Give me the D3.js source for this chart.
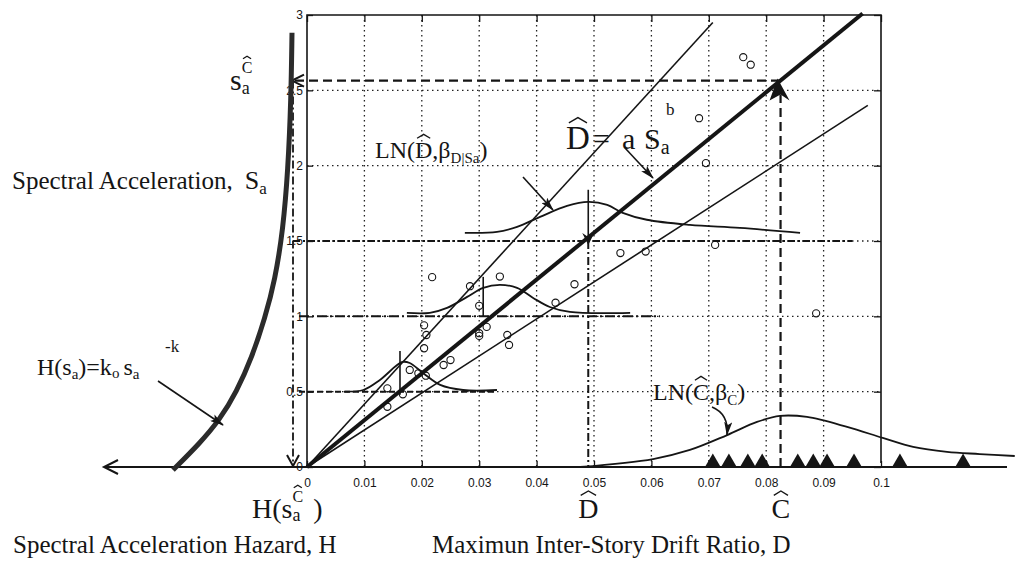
<!DOCTYPE html>
<html><head><meta charset="utf-8">
<script src="https://cdn.jsdelivr.net/npm/d3@7"></script>
<style>body{margin:0;background:#fff}svg{display:block}</style>
</head><body>
<svg id="c" width="1015" height="565"></svg>
<script>
// ---------- data ----------
const xTickValues = [0, 0.01, 0.02, 0.03, 0.04, 0.05, 0.06, 0.07, 0.08, 0.09, 0.1];
const xTickLabels = ['0', '0.01', '0.02', '0.03', '0.04', '0.05', '0.06', '0.07', '0.08', '0.09', '0.1'];
const yTickValues = [0, 0.5, 1, 1.5, 2, 2.5, 3];
const yTickLabels = ['0', '0.5', '1', '1.5', '2', '2.5', '3'];

// observed drift (D) vs spectral acceleration (Sa)
const obsD  = [0.0218,0.0336,0.0284,0.0300,0.0466,0.0433,0.0546,0.0204,0.0208,0.0204,0.0300,0.0300,0.0313,0.0349,0.0352,0.0238,0.0250,0.0179,0.0194,0.0207,0.0140,0.0167,0.0140,0.0760,0.0773,0.0683,0.0695,0.0711,0.0590,0.0887];
const obsSa = [1.26,1.264,1.20,1.07,1.213,1.09,1.42,0.94,0.876,0.788,0.888,0.87,0.93,0.876,0.81,0.677,0.71,0.644,0.622,0.606,0.522,0.483,0.40,2.72,2.67,2.315,2.017,1.474,1.43,1.02];

// capacity points (triangles) on the D axis
const capacityD = [0.0707,0.0735,0.0768,0.0793,0.0855,0.0882,0.0906,0.0953,0.1033,0.1143];

// fitted median line and +/- lines, as [D, Sa] end points
const medianLine = [[0, 0], [0.0968, 3.01]];
const upperLine  = [[0, 0], [0.0707, 2.95]];
const lowerLine  = [[0, 0], [0.0977, 2.40]];

// lognormal curves, as [D, Sa] points
const lnAt05 = [[0.0066,0.50],[0.0098,0.511],[0.0127,0.578],[0.0166,0.697],[0.0179,0.69],[0.0202,0.624],[0.0232,0.545],[0.0272,0.511],[0.0331,0.511]];
const lnAt10 = [[0.0174,1.023],[0.0214,1.023],[0.0244,1.056],[0.0279,1.129],[0.0307,1.189],[0.0336,1.209],[0.0366,1.189],[0.0394,1.122],[0.0423,1.062],[0.0458,1.029],[0.0563,1.023]];
const lnAt15 = [[0.0275,1.554],[0.0331,1.560],[0.0366,1.594],[0.0406,1.660],[0.0453,1.733],[0.0490,1.760],[0.0523,1.740],[0.0550,1.687],[0.0592,1.641],[0.0667,1.607],[0.0754,1.587],[0.0859,1.554]];
const lnCap  = [[0.0476,0],[0.0603,0.053],[0.0667,0.113],[0.0732,0.212],[0.0784,0.299],[0.0824,0.339],[0.0871,0.332],[0.0941,0.266],[0.1003,0.193],[0.1056,0.133],[0.1115,0.10],[0.1172,0.086],[0.1233,0.073]];
// vertical median markers: [D, SaTop, SaBottom]
const lnMarkers = [[0.0162,0.77,0.48],[0.0307,1.262,1.0],[0.049,1.84,1.507]];

// hazard curve, [H (arbitrary units, drawn leftwards), Sa]
const hazardCurve = [[0.67,-0.02],[0.535,0.159],[0.4375,0.312],[0.3525,0.498],[0.275,0.73],[0.21,0.989],[0.16,1.242],[0.12,1.574],[0.095,1.972],[0.08,2.437],[0.075,2.882]];

const dHat = 0.049, cHat = 0.0825, saHatC = 2.565, hAtC = 0.07;

// ---------- scales ----------
const x = d3.scaleLinear().domain([0, 0.1]).range([307, 881]);
const y = d3.scaleLinear().domain([0, 3]).range([467, 15]);
const h = d3.scaleLinear().domain([0, 1]).range([307, 107]);

const svg = d3.select('#c');
const ink = '#151515';
const serif = '"Liberation Serif","Times New Roman",serif';
const sans = '"Liberation Sans",Arial,sans-serif';

const defs = svg.append('defs');
defs.append('marker').attr('id', 'ah').attr('viewBox', '0 0 14 8').attr('refX', 13).attr('refY', 4)
  .attr('markerWidth', 14).attr('markerHeight', 8).attr('markerUnits', 'userSpaceOnUse').attr('orient', 'auto')
  .append('path').attr('d', 'M0,0 L14,4 L0,8 L3,4 Z').attr('fill', ink);

// ---------- grid ----------
const grid = svg.append('g').attr('stroke', '#222').attr('stroke-width', 1.3).attr('stroke-dasharray', '1.5,3.5');
grid.selectAll('line.v').data(xTickValues.slice(1, -1)).join('line')
  .attr('x1', d => x(d)).attr('x2', d => x(d)).attr('y1', y(3)).attr('y2', y(0));
grid.selectAll('line.h').data(yTickValues.slice(1, -1)).join('line')
  .attr('x1', x(0)).attr('x2', x(0.1)).attr('y1', d => y(d)).attr('y2', d => y(d));

// ---------- axes ----------
const fmtX = (d) => xTickLabels[xTickValues.indexOf(d)];
const fmtY = (d) => yTickLabels[yTickValues.indexOf(d)];
function styleAxis(g) {
  g.attr('font-family', sans).attr('font-size', 12);
  g.selectAll('line').attr('stroke', ink).attr('stroke-width', 1.3);
  g.selectAll('text').attr('fill', ink);
  g.select('.domain').remove();
}
svg.append('g').attr('transform', `translate(${x(0)},0)`)
  .call(d3.axisLeft(y).tickValues(yTickValues).tickFormat(fmtY).tickSizeInner(-6).tickSizeOuter(0).tickPadding(4))
  .call(styleAxis);
svg.append('g').attr('transform', `translate(0,${y(0)})`)
  .call(d3.axisBottom(x).tickValues(xTickValues).tickFormat(fmtX).tickSizeInner(-6).tickSizeOuter(0).tickPadding(11))
  .call(styleAxis);
svg.append('g').attr('transform', `translate(0,${y(3)})`)
  .call(d3.axisTop(x).tickValues(xTickValues).tickFormat('').tickSizeInner(-7).tickSizeOuter(0))
  .call(styleAxis);
svg.append('g').attr('transform', `translate(${x(0.1)},0)`)
  .call(d3.axisRight(y).tickValues(yTickValues).tickFormat('').tickSizeInner(-7).tickSizeOuter(0))
  .call(styleAxis);

// frame
svg.append('path').attr('fill', 'none').attr('stroke', ink).attr('stroke-width', 1.6)
  .attr('d', `M${x(0)},${y(0)} V${y(3)} H${x(0.1)} V${y(0) - 4}`);
// long horizontal axis with arrow to the left
svg.append('line').attr('x1', 104).attr('x2', 1007).attr('y1', y(0)).attr('y2', y(0))
  .attr('stroke', ink).attr('stroke-width', 1.8);
svg.append('path').attr('fill', 'none').attr('stroke', ink).attr('stroke-width', 2)
  .attr('d', `M118,${y(0) - 7} L104,${y(0)} L118,${y(0) + 7}`);

// ---------- reference dashed lines ----------
const ref = svg.append('g').attr('fill', 'none').attr('stroke', ink);
ref.append('line').attr('x1', h(hAtC) + 2).attr('x2', x(cHat)).attr('y1', y(saHatC)).attr('y2', y(saHatC))
  .attr('stroke-width', 2.2).attr('stroke-dasharray', '9,5');
ref.append('line').attr('x1', x(cHat)).attr('x2', x(cHat)).attr('y1', y(0)).attr('y2', y(saHatC) + 14)
  .attr('stroke-width', 2.2).attr('stroke-dasharray', '9,5');
ref.append('line').attr('x1', h(hAtC)).attr('x2', x(0.095)).attr('y1', y(1.5)).attr('y2', y(1.5))
  .attr('stroke-width', 2).attr('stroke-dasharray', '7,3,2,3');
ref.append('line').attr('x1', x(dHat)).attr('x2', x(dHat)).attr('y1', y(1.5)).attr('y2', y(0))
  .attr('stroke-width', 2).attr('stroke-dasharray', '8,3,2,3');
ref.append('line').attr('x1', h(hAtC) + 6).attr('x2', x(0.0615)).attr('y1', y(1)).attr('y2', y(1))
  .attr('stroke-width', 2).attr('stroke-dasharray', '10,3,2,3');
ref.append('line').attr('x1', h(hAtC) + 6).attr('x2', x(0.033)).attr('y1', y(0.5)).attr('y2', y(0.5))
  .attr('stroke-width', 2).attr('stroke-dasharray', '6,3');
ref.append('line').attr('x1', h(hAtC)).attr('x2', h(hAtC)).attr('y1', y(saHatC)).attr('y2', y(0) - 2)
  .attr('stroke-width', 1.8).attr('stroke-dasharray', '8,3,2,3');
// arrow heads of the projection path
ref.append('path').attr('stroke-width', 2)
  .attr('d', `M${h(hAtC) - 6},${y(0) - 12} L${h(hAtC)},${y(0) - 1} L${h(hAtC) + 6},${y(0) - 12}`);
ref.append('path').attr('stroke-width', 2)
  .attr('d', `M${h(hAtC) + 11},${y(saHatC) - 6} L${h(hAtC) - 1},${y(saHatC)} L${h(hAtC) + 11},${y(saHatC) + 6}`);
svg.append('path').attr('fill', ink)
  .attr('d', `M${x(cHat) - 3},${y(saHatC) - 2} L${x(cHat) + 9},${y(saHatC) + 20} L${x(cHat)},${y(saHatC) + 14} L${x(cHat) - 11},${y(saHatC) + 20} Z`);
svg.append('path').attr('fill', ink)
  .attr('d', `M${x(dHat)},${y(1.5) + 4} L${x(dHat) - 6},${y(1.5) - 8} L${x(dHat)},${y(1.5) - 4} L${x(dHat) + 6},${y(1.5) - 8} Z`);

// ---------- fitted lines ----------
const lineXY = d3.line().x(d => x(d[0])).y(d => y(d[1]));
svg.append('path').datum(upperLine).attr('d', lineXY).attr('fill', 'none').attr('stroke', ink).attr('stroke-width', 1.6);
svg.append('path').datum(lowerLine).attr('d', lineXY).attr('fill', 'none').attr('stroke', ink).attr('stroke-width', 1.6);
svg.append('path').datum(medianLine).attr('d', lineXY).attr('fill', 'none').attr('stroke', ink).attr('stroke-width', 4);

// ---------- lognormal curves ----------
const curveXY = d3.line().x(d => x(d[0])).y(d => y(d[1])).curve(d3.curveCatmullRom.alpha(0.5));
[lnAt05, lnAt10, lnAt15, lnCap].forEach(c => {
  svg.append('path').datum(c).attr('d', curveXY).attr('fill', 'none').attr('stroke', ink).attr('stroke-width', 1.8);
});
svg.selectAll('line.mk').data(lnMarkers).join('line')
  .attr('x1', d => x(d[0])).attr('x2', d => x(d[0])).attr('y1', d => y(d[1])).attr('y2', d => y(d[2]))
  .attr('stroke', ink).attr('stroke-width', 1.6);

// ---------- observations ----------
svg.append('g').selectAll('circle').data(obsD).join('circle')
  .attr('cx', d => x(d)).attr('cy', (d, i) => y(obsSa[i])).attr('r', 3.6)
  .attr('fill', 'none').attr('stroke', ink).attr('stroke-width', 1.1);

// ---------- capacity triangles ----------
svg.append('g').selectAll('path').data(capacityD).join('path')
  .attr('d', d3.symbol().type(d3.symbolTriangle).size(95))
  .attr('transform', d => `translate(${x(d)},${y(0) - 5})`)
  .attr('fill', ink);

// ---------- hazard curve ----------
svg.append('path').datum(hazardCurve)
  .attr('d', d3.line().x(d => h(d[0])).y(d => y(d[1])).curve(d3.curveBasis))
  .attr('fill', 'none').attr('stroke', '#2b2b2b').attr('stroke-width', 5);

// ---------- text helpers ----------
function rich(x0, y0, parts) {
  let cx = x0;
  parts.forEach(p => {
    const px = (p.x !== undefined) ? p.x : cx + (p.dx || 0);
    const t = svg.append('text').attr('x', px).attr('y', y0 + (p.dy || 0))
      .attr('font-family', serif).attr('font-size', p.size).attr('fill', ink).text(p.t);
    const w = t.node().getComputedTextLength();
    if (p.hat) {
      const mx = px + w / 2;
      const top = y0 + (p.dy || 0) - p.size * 0.7 - 3;
      svg.append('path').attr('fill', 'none').attr('stroke', ink).attr('stroke-width', 1.3)
        .attr('d', `M${mx - w * 0.38},${top} L${mx},${top - p.size * 0.16} L${mx + w * 0.38},${top}`);
    }
    if (!p.stay) cx = px + w;
  });
}
function arrow(x1, y1, x2, y2) {
  svg.append('line').attr('x1', x1).attr('y1', y1).attr('x2', x2).attr('y2', y2)
    .attr('stroke', ink).attr('stroke-width', 1.6).attr('marker-end', 'url(#ah)');
}

// labels
rich(12, 189, [{t: 'Spectral Acceleration,', size: 25}, {t: 'S', size: 26, dx: 12}, {t: 'a', size: 17, dy: 5}]);
rich(230, 90, [{t: 's', size: 30}, {t: 'a', size: 18, dy: 4, stay: true}, {t: 'C', size: 16, dy: -17, hat: true}]);
rich(37, 375, [{t: 'H(s', size: 24}, {t: 'a', size: 15, dy: 4}, {t: ')=k', size: 24}, {t: 'o', size: 15, dy: 3}, {t: 's', size: 24, dx: 4}, {t: 'a', size: 15, dy: 4}]);
rich(165, 352, [{t: '-k', size: 17}]);
arrow(158, 381, 223, 425);
rich(252, 518, [{t: 'H(s', size: 28}, {t: 'a', size: 18, dy: 3, stay: true}, {t: 'C', size: 16, dy: -16, hat: true}, {t: ')', size: 28, dx: 10}]);
rich(13, 553, [{t: 'Spectral Acceleration Hazard, H', size: 25}]);
rich(432, 553, [{t: 'Maximun Inter-Story Drift Ratio, D', size: 25}]);
rich(x(dHat) - 10, 518, [{t: 'D', size: 28, hat: true}]);
rich(x(cHat) - 9, 518, [{t: 'C', size: 28, hat: true}]);

rich(375, 158, [{t: 'LN(', size: 24}, {t: 'D', size: 24, hat: true}, {t: ',β', size: 24}, {t: 'D|Sa', size: 15, dy: 5}, {t: ')', size: 24}]);
arrow(523, 177, 553, 210);
rich(566, 149, [{t: 'D', size: 33, hat: true}, {t: '=', size: 30, x: 593}, {t: 'a', size: 30, x: 622}, {t: 'S', size: 30, x: 644}, {t: 'a', size: 20, dy: 5}]);
rich(666, 115, [{t: 'b', size: 17}]);
arrow(625, 148, 653, 178);
rich(653, 400, [{t: 'LN(', size: 24}, {t: 'C', size: 24, hat: true}, {t: ',β', size: 24}, {t: 'C', size: 15, dy: 5}, {t: ')', size: 24}]);
svg.append('path').attr('fill', 'none').attr('stroke', ink).attr('stroke-width', 1.6)
  .attr('d', 'M712,407 Q729,414 727,435').attr('marker-end', 'url(#ah)');
</script>
</body></html>
